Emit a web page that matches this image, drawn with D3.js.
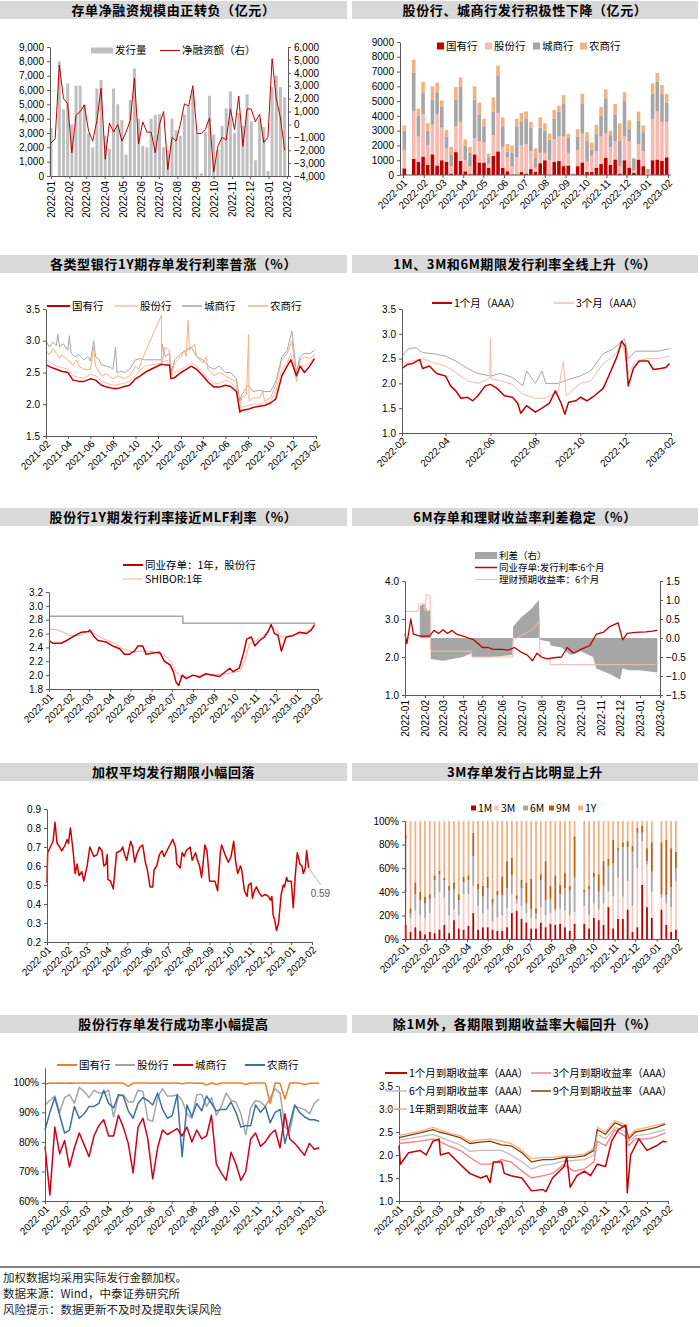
<!DOCTYPE html>
<html>
<head>
<meta charset="utf-8">
<script src="https://cdn.jsdelivr.net/npm/d3@7"></script>
<style>body{margin:0;background:#fff}</style>
</head>
<body>
<script>
"use strict";

// ---------- data ----------
// panel 1: weekly issuance (left) and net financing (right), 亿元
const p1Issue = [3350, 0, 8000, 4650, 6450, 3600, 6300, 6300, 5000, 3000, 2000, 6100, 6700, 2800, 1900, 6100, 5000, 3900, 1500, 5300,
    7500, 4000, 2100, 2000, 4000, 4250, 4300, 2000, 1800, 4000, 3200, 2800, 4300, 4800, 6000, 3000, 200, 3100, 5600, 2900,
    1800, 3500, 4700, 5900, 3000, 4400, 3500, 5700, 3800, 1100, 4000, 3400, 350, 6200, 7000, 6200, 5500];
const p1Net = [-1450, -1100, 4600, 2000, 1600, -2200, 700, 1000, 1500, -500, -1300, 300, 2800, -2700, 100, -600, 0, -1300, -600, 300,
    3600, -1500, 200, -600, -600, -2200, 0, 1000, -3500, -1000, -1300, 0, 1600, 1400, 3000, -700, -700, -400, 500, -3700,
    -1700, -1000, -1200, 1200, -400, 2200, -1700, 1200, 1200, 200, 800, -1400, -1000, 5100, 2000, 500, -2000];

// panel 2: weekly issuance by bank type
const p2Keys = ["国有行", "股份行", "城商行", "农商行"];
const p2Guoyou = [450, 0, 1100, 900, 1250, 700, 1400, 650, 1000, 900, 100, 1550, 950, 250, 50, 1400, 850, 850, 500, 1300,
    1600, 500, 250, 0, 0, 200, 100, 400, 200, 800, 1000, 0, 900, 950, 600, 650, 0, 600, 850, 200,
    200, 500, 750, 1150, 700, 1050, 100, 1000, 500, 150, 1050, 600, 0, 1000, 1050, 950, 1200];
const p2Gufen = [1250, 0, 3200, 1700, 2850, 1300, 2000, 3450, 2200, 900, 500, 1750, 2650, 750, 550, 1100, 1450, 1350, 300, 1400,
    2600, 1400, 950, 600, 1200, 1800, 2000, 1200, 300, 700, 500, 1000, 1500, 1650, 2000, 850, 50, 1100, 1950, 700,
    1100, 1100, 1850, 1650, 1200, 1250, 500, 1600, 1800, 150, 1050, 1000, 100, 2800, 3250, 2650, 2400];
const p2Chengshang = [1300, 0, 2600, 1400, 1500, 1000, 1700, 1500, 1400, 800, 800, 1800, 2400, 1000, 900, 2600, 1800, 1100, 400, 1600,
    2500, 1400, 400, 900, 2100, 1600, 1700, 1600, 700, 1700, 1500, 1400, 1400, 1700, 2200, 1000, 50, 900, 2000, 1400,
    400, 1200, 1400, 2400, 800, 1800, 1700, 2400, 800, 800, 1600, 1300, 300, 1700, 2000, 1900, 1300];
const p2Nongshang = [350, 0, 900, 500, 700, 500, 900, 650, 450, 450, 500, 850, 600, 400, 400, 900, 800, 500, 250, 950,
    700, 600, 500, 500, 500, 600, 500, 400, 600, 700, 500, 400, 600, 400, 600, 300, 0, 500, 700, 600,
    500, 600, 600, 600, 300, 700, 1200, 600, 600, 50, 600, 450, 0, 700, 600, 600, 600];

// panel 3: 1Y CD issuance rate by bank type (%)
const p3Guoyou = [["21-02-01", 2.62], ["21-02-15", 2.58], ["21-03-01", 2.55], ["21-03-15", 2.52], ["21-04-01", 2.5], ["21-04-15", 2.38],
    ["21-05-01", 2.36], ["21-05-15", 2.36], ["21-06-01", 2.4], ["21-06-15", 2.38], ["21-07-01", 2.3], ["21-07-15", 2.27],
    ["21-08-01", 2.25], ["21-08-15", 2.25], ["21-09-01", 2.28], ["21-09-15", 2.3], ["21-10-01", 2.4], ["21-10-15", 2.45],
    ["21-11-01", 2.52], ["21-12-10", 2.63], ["21-12-20", 2.62], ["22-01-01", 2.62], ["22-01-05", 2.4], ["22-01-15", 2.42],
    ["22-02-01", 2.5], ["22-02-15", 2.55], ["22-03-01", 2.6], ["22-03-15", 2.55], ["22-04-01", 2.45], ["22-04-15", 2.35],
    ["22-05-01", 2.27], ["22-05-15", 2.27], ["22-06-01", 2.3], ["22-06-15", 2.28], ["22-07-01", 2.2], ["22-07-10", 1.88],
    ["22-07-15", 1.9], ["22-08-01", 1.92], ["22-08-15", 1.95], ["22-09-01", 1.97], ["22-09-15", 1.98], ["22-10-01", 2.02],
    ["22-10-15", 2.08], ["22-11-01", 2.45], ["22-11-15", 2.6], ["22-11-25", 2.7], ["22-12-10", 2.45], ["22-12-20", 2.6],
    ["23-01-01", 2.5], ["23-01-15", 2.6], ["23-01-28", 2.72]];
const p3Gufen = [["21-02-01", 2.7], ["21-02-15", 2.65], ["21-03-01", 2.6], ["21-03-15", 2.58], ["21-04-01", 2.55], ["21-04-15", 2.45],
    ["21-05-01", 2.42], ["21-05-15", 2.42], ["21-06-01", 2.47], ["21-06-15", 2.45], ["21-07-01", 2.36], ["21-07-15", 2.33],
    ["21-08-01", 2.3], ["21-08-15", 2.31], ["21-09-01", 2.33], ["21-09-15", 2.36], ["21-10-01", 2.45], ["21-10-15", 2.55],
    ["21-10-25", 2.6], ["21-12-10", 2.65], ["21-12-20", 2.68], ["22-01-01", 2.7], ["22-01-05", 2.45], ["22-01-15", 2.5],
    ["22-02-01", 2.55], ["22-02-15", 2.6], ["22-03-01", 2.66], ["22-03-15", 2.6], ["22-04-01", 2.5], ["22-04-15", 2.4],
    ["22-05-01", 2.32], ["22-05-15", 2.33], ["22-06-01", 2.38], ["22-06-15", 2.35], ["22-07-01", 2.25], ["22-07-10", 1.9],
    ["22-07-15", 1.95], ["22-08-01", 1.98], ["22-08-15", 2.0], ["22-09-01", 2.0], ["22-09-15", 2.02], ["22-10-01", 2.05],
    ["22-10-15", 2.2], ["22-11-01", 2.55], ["22-11-15", 2.65], ["22-11-25", 2.8], ["22-12-10", 2.4], ["22-12-20", 2.6],
    ["23-01-01", 2.6], ["23-01-15", 2.65], ["23-01-28", 2.75]];
const p3Chengshang = [["21-02-01", 3.0], ["21-02-10", 2.9], ["21-02-20", 2.98], ["21-03-01", 2.92], ["21-03-05", 3.1], ["21-03-10", 2.9],
    ["21-03-20", 2.95], ["21-04-01", 2.85], ["21-04-05", 3.08], ["21-04-10", 2.8], ["21-04-20", 2.75], ["21-05-01", 2.78],
    ["21-05-15", 2.7], ["21-05-25", 2.75], ["21-06-01", 2.68], ["21-06-10", 3.0], ["21-06-15", 2.75], ["21-06-25", 2.7],
    ["21-07-01", 2.62], ["21-07-15", 2.6], ["21-07-25", 2.58], ["21-08-01", 2.55], ["21-08-08", 2.9], ["21-08-12", 2.5],
    ["21-08-25", 2.52], ["21-09-01", 2.5], ["21-09-15", 2.55], ["21-10-01", 2.7], ["21-10-15", 2.72], ["21-10-25", 2.7],
    ["21-12-10", 2.7], ["21-12-12", 2.95], ["21-12-20", 2.75], ["22-01-01", 2.8], ["22-01-05", 2.5], ["22-01-15", 2.7],
    ["22-02-01", 2.8], ["22-02-15", 2.85], ["22-03-01", 2.9], ["22-03-15", 2.75], ["22-04-01", 2.7], ["22-04-15", 2.6],
    ["22-05-01", 2.55], ["22-05-15", 2.6], ["22-06-01", 2.5], ["22-06-15", 2.5], ["22-07-01", 2.4], ["22-07-10", 2.05],
    ["22-07-15", 2.15], ["22-08-01", 2.3], ["22-08-15", 2.2], ["22-09-01", 2.22], ["22-09-15", 2.2], ["22-10-01", 2.2],
    ["22-10-15", 2.35], ["22-11-01", 2.75], ["22-11-15", 2.85], ["22-11-28", 3.15], ["22-12-10", 2.5], ["22-12-20", 2.75],
    ["23-01-01", 2.8], ["23-01-15", 2.8], ["23-01-28", 2.85]];
const p3Nongshang = [["21-02-01", 2.85], ["21-02-10", 2.78], ["21-02-20", 2.88], ["21-03-01", 2.8], ["21-03-10", 2.72], ["21-03-15", 2.78],
    ["21-04-01", 2.7], ["21-04-15", 2.62], ["21-04-25", 2.7], ["21-05-01", 2.6], ["21-05-15", 2.55], ["21-06-01", 2.55],
    ["21-06-10", 2.9], ["21-06-15", 2.6], ["21-07-01", 2.45], ["21-07-15", 2.48], ["21-08-01", 2.4], ["21-08-15", 2.45],
    ["21-09-01", 2.4], ["21-09-15", 2.45], ["21-10-01", 2.6], ["21-10-10", 2.55], ["21-10-20", 2.72], ["21-12-10", 3.4],
    ["21-12-11", 2.65], ["21-12-20", 2.9], ["22-01-01", 2.85], ["22-01-05", 2.45], ["22-01-15", 2.65], ["22-02-01", 2.75],
    ["22-02-10", 2.85], ["22-02-15", 2.75], ["22-02-20", 3.32], ["22-02-24", 2.85], ["22-03-10", 2.95], ["22-03-15", 2.75],
    ["22-04-01", 2.65], ["22-04-10", 2.75], ["22-04-15", 2.55], ["22-05-01", 2.45], ["22-05-15", 2.5], ["22-06-01", 2.45],
    ["22-06-15", 2.4], ["22-07-01", 2.35], ["22-07-10", 1.85], ["22-07-15", 2.1], ["22-07-28", 2.15], ["22-08-03", 3.1],
    ["22-08-04", 2.05], ["22-08-15", 2.1], ["22-09-01", 2.1], ["22-09-10", 2.2], ["22-09-15", 2.05], ["22-10-01", 2.1],
    ["22-10-15", 2.3], ["22-11-01", 2.7], ["22-11-15", 2.8], ["22-11-28", 3.0], ["22-12-10", 2.35], ["22-12-20", 2.7],
    ["23-01-01", 2.75], ["23-01-15", 2.72], ["23-01-28", 2.78]];

// panel 4: 1M / 3M / 6M issuance rate (%)
const p4M1 = [["22-02-01", 2.3], ["22-02-08", 2.38], ["22-02-15", 2.4], ["22-02-25", 2.48], ["22-03-01", 2.3], ["22-03-10", 2.35],
    ["22-03-20", 2.2], ["22-04-01", 2.15], ["22-04-08", 1.95], ["22-04-15", 1.85], ["22-04-22", 1.7], ["22-05-01", 1.72],
    ["22-05-08", 1.65], ["22-05-15", 1.75], ["22-05-25", 1.95], ["22-06-01", 1.98], ["22-06-10", 1.9], ["22-06-20", 1.75],
    ["22-07-01", 1.72], ["22-07-08", 1.6], ["22-07-12", 1.4], ["22-07-20", 1.55], ["22-08-01", 1.42], ["22-08-10", 1.5],
    ["22-08-20", 1.6], ["22-08-28", 1.85], ["22-09-05", 1.6], ["22-09-10", 1.38], ["22-09-15", 1.62], ["22-09-25", 1.65],
    ["22-10-01", 1.72], ["22-10-10", 1.65], ["22-10-20", 1.75], ["22-11-01", 1.9], ["22-11-10", 2.2], ["22-11-20", 2.55],
    ["22-11-26", 2.85], ["22-12-01", 2.75], ["22-12-05", 1.95], ["22-12-12", 2.3], ["22-12-20", 2.45], ["23-01-01", 2.45],
    ["23-01-08", 2.28], ["23-01-18", 2.3], ["23-01-25", 2.32], ["23-01-30", 2.4]];
const p4M3 = [["22-02-01", 2.4], ["22-02-15", 2.45], ["22-03-01", 2.5], ["22-03-15", 2.42], ["22-04-01", 2.35], ["22-04-15", 2.22],
    ["22-05-01", 2.05], ["22-05-15", 2.0], ["22-05-31", 2.1], ["22-06-01", 2.9], ["22-06-02", 2.1], ["22-06-15", 2.05],
    ["22-07-01", 1.98], ["22-07-15", 1.78], ["22-08-01", 1.7], ["22-08-15", 1.7], ["22-09-01", 1.85], ["22-09-08", 2.45],
    ["22-09-12", 1.75], ["22-10-01", 2.0], ["22-10-15", 2.05], ["22-11-01", 2.4], ["22-11-15", 2.55], ["22-11-28", 2.78],
    ["22-12-05", 2.2], ["22-12-15", 2.45], ["23-01-01", 2.5], ["23-01-15", 2.5], ["23-01-30", 2.55]];
const p4M6 = [["22-02-01", 2.55], ["22-02-10", 2.7], ["22-02-20", 2.72], ["22-03-01", 2.62], ["22-03-15", 2.6], ["22-04-01", 2.55],
    ["22-04-15", 2.45], ["22-05-01", 2.3], ["22-05-15", 2.2], ["22-06-01", 2.15], ["22-06-15", 2.2], ["22-07-01", 2.12],
    ["22-07-15", 1.95], ["22-07-20", 2.25], ["22-08-01", 2.0], ["22-08-10", 2.25], ["22-08-15", 2.0], ["22-09-01", 2.0],
    ["22-09-15", 2.08], ["22-10-01", 2.15], ["22-10-15", 2.25], ["22-11-01", 2.6], ["22-11-15", 2.7], ["22-11-30", 2.9],
    ["22-12-05", 2.5], ["22-12-15", 2.65], ["23-01-01", 2.65], ["23-01-15", 2.65], ["23-01-30", 2.7]];

// panel 5: [day since 2022-01-01, %]
const p5Cd = [[0, 2.5], [6, 2.46], [18, 2.46], [26, 2.5], [38, 2.57], [48, 2.62], [58, 2.63], [60, 2.65], [67, 2.55], [72, 2.5],
    [84, 2.48], [94, 2.42], [104, 2.38], [111, 2.3], [118, 2.3], [126, 2.35], [131, 2.42], [138, 2.42], [143, 2.3], [153, 2.32],
    [163, 2.33], [170, 2.2], [178, 2.15], [183, 2.05], [187, 1.9], [191, 1.85], [196, 2.0], [202, 1.95], [212, 2.0], [222, 1.97],
    [231, 2.02], [241, 2.0], [251, 1.98], [256, 2.02], [266, 2.1], [271, 2.05], [280, 2.1], [286, 2.3], [291, 2.52], [298, 2.55],
    [303, 2.42], [310, 2.5], [317, 2.55], [322, 2.62], [327, 2.73], [332, 2.6], [337, 2.58], [342, 2.35], [349, 2.55], [359, 2.57],
    [369, 2.62], [379, 2.6], [386, 2.65], [391, 2.73]];
const p5Shibor = [[0, 2.66], [11, 2.66], [21, 2.62], [30, 2.57], [45, 2.57], [57, 2.63], [67, 2.6], [79, 2.53], [94, 2.47], [109, 2.38],
    [124, 2.33], [138, 2.35], [153, 2.34], [168, 2.3], [178, 2.22], [187, 2.05], [195, 1.97], [202, 1.98], [222, 2.0], [241, 2.01],
    [261, 2.02], [281, 2.06], [288, 2.2], [295, 2.45], [305, 2.5], [320, 2.6], [327, 2.7], [335, 2.65], [342, 2.55], [349, 2.55],
    [359, 2.58], [374, 2.6], [391, 2.7]];
const p5Mlf = [[0, 2.85], [197, 2.75], [392, 2.75]];

// panel 6
const p6Spread = [["22-01-24", 0.85], ["22-02-01", 0.9], ["22-02-05", 0.7], ["22-02-09", 0.75], ["22-02-10", -0.55], ["22-03-01", -0.6],
    ["22-04-01", -0.5], ["22-04-14", -0.4], ["22-04-15", -0.5], ["22-05-15", -0.5], ["22-06-17", -0.45], ["22-06-18", 0.3],
    ["22-07-01", 0.55], ["22-07-15", 0.75], ["22-07-28", 1.0], ["22-07-30", -0.05], ["22-08-14", -0.1], ["22-08-15", -0.2],
    ["22-09-01", -0.25], ["22-09-15", -0.45], ["22-10-01", -0.35], ["22-10-20", -0.5], ["22-10-25", -0.8], ["22-11-15", -0.95],
    ["22-12-01", -1.1], ["22-12-05", -0.8], ["22-12-15", -0.85], ["23-01-01", -0.85], ["23-01-25", -0.9], ["23-01-28", -0.9]];
const p6Cd = [["22-01-01", 2.6], ["22-01-04", 2.35], ["22-01-10", 3.0], ["22-01-14", 2.6], ["22-01-25", 2.55], ["22-02-08", 2.55],
    ["22-02-15", 2.7], ["22-02-22", 2.62], ["22-03-01", 2.72], ["22-03-08", 2.62], ["22-03-15", 2.7], ["22-03-22", 2.6],
    ["22-04-01", 2.55], ["22-04-10", 2.5], ["22-04-18", 2.45], ["22-04-25", 2.35], ["22-05-01", 2.25], ["22-05-10", 2.25],
    ["22-05-18", 2.2], ["22-06-01", 2.2], ["22-06-10", 2.18], ["22-06-20", 2.25], ["22-07-01", 2.12], ["22-07-10", 2.05],
    ["22-07-18", 1.9], ["22-07-25", 2.1], ["22-08-01", 2.0], ["22-08-10", 1.95], ["22-08-20", 1.98], ["22-09-01", 2.0],
    ["22-09-10", 2.25], ["22-09-20", 2.1], ["22-10-01", 2.2], ["22-10-15", 2.3], ["22-10-25", 2.6], ["22-11-05", 2.65],
    ["22-11-15", 2.8], ["22-11-28", 2.9], ["22-12-05", 2.45], ["22-12-12", 2.62], ["22-12-25", 2.65], ["23-01-10", 2.66],
    ["23-01-20", 2.68], ["23-01-28", 2.7]];
const p6Wealth = [["22-01-01", 3.2], ["22-01-21", 3.2], ["22-01-22", 3.4], ["22-01-31", 3.4], ["22-02-01", 3.2], ["22-02-03", 3.65],
    ["22-02-09", 3.6], ["22-02-10", 2.15], ["22-04-14", 2.15], ["22-04-15", 2.0], ["22-06-17", 2.0], ["22-06-18", 2.45],
    ["22-07-05", 2.6], ["22-07-20", 2.75], ["22-07-28", 2.95], ["22-07-30", 1.97], ["22-08-14", 1.97], ["22-08-15", 1.8],
    ["23-01-25", 1.8]];

// panel 7: weighted average tenor, [day since 2022-01-01, year]
const p7Tenor = [[0, 0.51], [1, 0.67], [5, 0.70], [9, 0.73], [12, 0.83], [15, 0.72], [19, 0.70], [22, 0.68], [27, 0.71], [30, 0.74],
    [32, 0.72], [35, 0.80], [39, 0.68], [42, 0.56], [45, 0.61], [48, 0.55], [52, 0.57], [55, 0.52], [60, 0.6], [64, 0.70],
    [70, 0.65], [75, 0.66], [78, 0.70], [82, 0.68], [85, 0.60], [88, 0.61], [90, 0.66], [91, 0.53], [95, 0.52], [99, 0.48],
    [104, 0.67], [110, 0.68], [113, 0.70], [116, 0.66], [119, 0.63], [125, 0.73], [128, 0.70], [131, 0.62], [134, 0.66], [139, 0.70],
    [143, 0.71], [147, 0.62], [150, 0.58], [154, 0.49], [158, 0.49], [160, 0.58], [164, 0.60], [168, 0.66], [172, 0.68], [175, 0.65],
    [182, 0.70], [188, 0.74], [192, 0.70], [194, 0.61], [199, 0.59], [202, 0.67], [205, 0.65], [208, 0.68], [214, 0.70], [217, 0.63],
    [222, 0.67], [224, 0.64], [228, 0.60], [231, 0.54], [236, 0.71], [239, 0.68], [243, 0.52], [251, 0.52], [255, 0.47], [259, 0.67],
    [261, 0.71], [266, 0.66], [271, 0.62], [275, 0.65], [279, 0.73], [282, 0.62], [285, 0.56], [289, 0.60], [291, 0.58], [295, 0.47],
    [299, 0.44], [301, 0.50], [305, 0.51], [307, 0.43], [310, 0.47], [313, 0.49], [317, 0.46], [321, 0.44], [326, 0.45], [331, 0.44],
    [334, 0.42], [336, 0.44], [338, 0.34], [340, 0.32], [343, 0.26], [346, 0.30], [350, 0.45], [353, 0.50], [355, 0.49], [358, 0.54],
    [360, 0.52], [365, 0.52], [368, 0.38], [371, 0.55], [374, 0.67], [378, 0.61], [381, 0.60], [383, 0.56], [386, 0.59], [388, 0.68],
    [391, 0.59]];

// panel 8: weekly share by tenor (%), null = no issuance that week
const p8Keys = ["1M", "3M", "6M", "9M", "1Y"];
const p8M1 = [12, 6, 10, 7, 4, 6, 5, 8, 12, 5, 16, 9, 8, 11, 22, 8, 10, 10, 8, 7, 7, 10, 22, 24, 17, 14, 9, 9, 14, 10,
    13, 12, 13, 10, 7, 13, null, 13, 9, 18, 16, 12, 27, 9, 17, 17, 25, 6, 10, 46, 27, 18, null, 25, 12, 6, 8];
const p8M3 = [28, 12, 14, 13, 14, 16, 30, 32, 23, 15, 9, 11, 30, 27, 23, 20, 12, 15, 7, 11, 13, 16, 16, 6, 11, 8, 9, 8, 13, 10,
    9, 12, 12, 14, 13, 10, null, 15, 11, 12, 9, 18, 13, 27, 35, 19, 24, 22, 50, 37, 36, 22, null, 10, 18, 21, 41];
const p8M6 = [45, 4, 14, 13, 12, 12, 15, 15, 15, 21, 17, 13, 10, 12, 25, 14, 14, 18, 15, 19, 17, 17, 16, 4, 15, 8, 7, 5, 23, 13,
    12, 1, 13, 19, 21, 29, null, 12, 22, 22, 15, 15, 22, 28, 23, 42, 29, 46, 30, 7, 3, 17, null, 3, 7, 17, 11];
const p8M9 = [3, 4, 10, 7, 6, 4, 4, 3, 2, 4, 6, 5, 5, 4, 20, 5, 9, 10, 4, 4, 16, 23, 15, 3, 7, 18, 26, 4, 5, 33,
    11, 29, 8, 13, 4, 35, null, 2, 3, 4, 15, 21, 6, 20, 2, 4, 5, 5, 4, 6, 11, 25, null, 44, 47, 33, 14];
const p8Y1 = [12, 74, 52, 60, 64, 62, 46, 42, 48, 55, 52, 62, 47, 46, 10, 53, 55, 47, 66, 59, 47, 34, 31, 63, 50, 52, 49, 74, 45, 34,
    55, 46, 54, 44, 55, 13, null, 58, 55, 44, 45, 34, 32, 16, 23, 18, 17, 21, 6, 4, 23, 18, null, 18, 16, 23, 26];

// panel 9: weekly issuance success rate (%)
const p9Guoyou = [99.5, 99.9, 99.8, 99.9, 99.8, 99.9, 99.8, 99.9, 99.9, 99.8, 99.9, 99.9, 99.8, 99.9, 99.9, 99.9, 99.8, 98.8, 99.9, 99.9,
    99.9, 99.9, 99.8, 99.9, 99.9, 99.8, 99.9, 99.9, 99.7, 99.9, 99.9, 99.8, 99.9, 99.3, 99.9, 99.4, 99.9, 99.9, 99.9, 99.9,
    99.9, 99.4, 99.9, 99.9, 99.9, 99.8, 93, 99.9, 99.8, 94.5, 99.9, 99.9, 99.9, 99.4, 99.8, 99.8, 99.8];
const p9Gufen = [92.5, 94, 95.5, 90, 95, 96, 93, 98.5, 97, 95, 97.5, 96.5, 96.5, 97.5, 88.5, 95.5, 96, 93.5, 93.5, 97.5,
    97, 87.5, 87, 95, 98, 95.5, 95.5, 96, 94, 89.5, 88, 96, 96, 92, 95, 89, 92, 96.5, 94, 93.5,
    89.5, 82.5, 91.5, 94, 93.5, 92, 95, 98, 96.5, 85, 83.5, 92, 91.5, 91, 89.5, 93, 94.5];
const p9Chengshang = [78.5, 62, 85, 76, 80.5, 71.5, 78, 83, 79, 75, 82, 85.5, 87.5, 82, 82, 89, 85, 79.5, 69.5, 85,
    88, 81, 67.5, 78, 84, 82.5, 83.5, 84.5, 82, 85, 80, 84, 81, 82, 89, 72.5, 69.5, 67, 76.5, 72.5,
    67, 70, 81, 83, 78.5, 80, 82.5, 84, 78, 89.5, 81, 79.5, 77.5, 75.5, 79.5, 77.5, 78];
const p9Nongshang = [84, 90, 95, 89, 83, 84, 92, 88, 89.5, 92, 92, 93, 97.5, 93, 91.5, 96, 95.5, 90.5, 88, 93,
    95, 94, 92.5, 96.5, 91, 88, 89, 96, 75, 92.5, 88.5, 93, 90.5, 95.5, 93, 90.5, 91, 91, 93.5, 90,
    85, 85.5, 85.5, 92.5, 90, 92, 86.5, 90, 91, 79.5, 86, 92.5, 90, 88.5, 87.5, 87.5, 87];

// panel 10: yield to maturity (%)
const p10Dates = ["22-01-01", "22-02-01", "22-02-20", "22-03-01", "22-03-15", "22-04-01", "22-04-15", "22-05-01", "22-05-15", "22-06-01",
    "22-06-15", "22-07-01", "22-07-15", "22-08-01", "22-08-15", "22-09-01", "22-09-15", "22-10-01", "22-10-15", "22-10-20",
    "22-11-01", "22-11-15", "22-12-01", "22-12-05", "22-12-15", "23-01-01", "23-01-15", "23-01-28"];
const p10Y1 = [2.42, 2.52, 2.6, 2.55, 2.48, 2.42, 2.3, 2.33, 2.35, 2.3, 2.25, 2.1, 1.92, 1.95, 1.95, 1.98, 1.99, 2.02, 2.15, 2.6,
    2.5, 2.75, 2.65, 2.4, 2.55, 2.6, 2.65, 2.7];
const p10M9 = [2.38, 2.48, 2.55, 2.5, 2.45, 2.38, 2.25, 2.28, 2.3, 2.22, 2.2, 2.05, 1.85, 1.9, 1.9, 1.95, 1.95, 1.98, 2.1, 2.55,
    2.45, 2.7, 2.6, 2.35, 2.5, 2.55, 2.6, 2.67];
const p10M6 = [2.32, 2.4, 2.45, 2.4, 2.32, 2.22, 2.08, 2.1, 2.1, 2.1, 2.0, 1.85, 1.7, 1.78, 1.8, 1.87, 1.88, 1.9, 2.0, 2.45,
    2.35, 2.6, 2.5, 2.3, 2.42, 2.45, 2.5, 2.55];
const p10M3 = [2.25, 2.3, 2.35, 2.3, 2.2, 2.1, 1.95, 1.8, 1.8, 1.9, 1.85, 1.65, 1.5, 1.55, 1.6, 1.8, 1.65, 1.7, 1.85, 2.3,
    2.2, 2.55, 2.4, 2.2, 2.35, 2.35, 2.4, 2.48];
const p10M1 = [["22-01-01", 2.2], ["22-01-03", 1.8], ["22-01-15", 2.05], ["22-02-01", 2.1], ["22-02-10", 2.0], ["22-02-20", 2.3],
    ["22-03-01", 2.35], ["22-03-03", 2.0], ["22-03-15", 2.05], ["22-04-01", 1.8], ["22-04-15", 1.6], ["22-05-01", 1.5],
    ["22-05-10", 1.55], ["22-05-15", 1.4], ["22-05-20", 1.85], ["22-06-01", 1.85], ["22-06-05", 1.6], ["22-06-15", 1.55],
    ["22-07-01", 1.5], ["22-07-15", 1.22], ["22-08-01", 1.25], ["22-08-05", 1.2], ["22-08-15", 1.5], ["22-09-01", 1.75],
    ["22-09-05", 1.95], ["22-09-10", 1.3], ["22-09-20", 1.55], ["22-10-01", 1.65], ["22-10-10", 1.55], ["22-10-20", 1.8],
    ["22-11-01", 1.75], ["22-11-10", 2.3], ["22-11-20", 2.55], ["22-12-01", 2.65], ["22-12-03", 1.18], ["22-12-08", 2.0],
    ["22-12-20", 2.35], ["23-01-01", 2.1], ["23-01-15", 2.2], ["23-01-25", 2.3], ["23-01-30", 2.28]];

const footnotes = ["加权数据均采用实际发行金额加权。", "数据来源：Wind，中泰证券研究所", "风险提示：数据更新不及时及提取失误风险"];

// ---------- helpers ----------
const LATIN = "'Liberation Sans', Arial, sans-serif";
const CJK = "'Noto Sans CJK SC', sans-serif";
const RED = "#c00000";
const parse = d3.timeParse("%y-%m-%d");
const D = (y, m) => new Date(y, m - 1, 1);
const weekDates = (start, n) => d3.range(n).map(i => d3.timeDay.offset(start, 7 * i));
const monthTicks = (a, b, step) => d3.timeMonth.range(a, d3.timeDay.offset(b, 1), step);

const svg = d3.select("body").append("svg").attr("width", 700).attr("height", 1327);
svg.append("rect").attr("width", 700).attr("height", 1327).attr("fill", "#fff");

function titleBar(x, y, w, text) {
    svg.append("rect").attr("x", x).attr("y", y).attr("width", w).attr("height", 18).attr("fill", "#d9d9d9");
    svg.append("text").attr("x", x + w / 2).attr("y", y + 9.5).attr("dy", "0.36em")
        .attr("text-anchor", "middle").attr("font-family", CJK).attr("font-weight", "bold")
        .attr("font-size", 13).attr("letter-spacing", 0.6).text(text);
}

function styleAxis(g) {
    g.selectAll("path.domain").attr("stroke", "#595959");
    g.selectAll(".tick line").attr("stroke", "#595959");
    g.selectAll("text").attr("font-family", LATIN).attr("font-size", 10).attr("fill", "#000");
}

function yAxis(scale, x, ticks, fmt, right) {
    const ax = (right ? d3.axisRight(scale) : d3.axisLeft(scale))
        .tickValues(ticks).tickFormat(fmt).tickSize(3).tickSizeOuter(0);
    const g = svg.append("g").attr("transform", `translate(${x},0)`).call(ax);
    styleAxis(g);
    return g;
}

function xAxis(scale, y, ticks, angle) {
    const g = svg.append("g").attr("transform", `translate(0,${y})`)
        .call(d3.axisBottom(scale).tickValues(ticks).tickFormat(d3.timeFormat("%Y-%m")).tickSize(3).tickSizeOuter(0));
    styleAxis(g);
    const t = g.selectAll(".tick text").attr("text-anchor", "end").attr("x", 0).attr("y", 0).attr("dy", "0.35em");
    if (angle === -90) t.attr("transform", "translate(0,5) rotate(-90)");
    else t.attr("transform", "translate(2,6) rotate(-45)");
    return g;
}

function drawLine(pts, x, y, color, width, getDate) {
    svg.append("path").datum(pts)
        .attr("fill", "none").attr("stroke", color).attr("stroke-width", width).attr("stroke-linejoin", "round")
        .attr("d", d3.line().x(d => x(getDate(d))).y(d => y(d[1])));
}

function legLine(x, y, color, width, label, len, size) {
    svg.append("line").attr("x1", x).attr("x2", x + (len || 20)).attr("y1", y).attr("y2", y)
        .attr("stroke", color).attr("stroke-width", width);
    svg.append("text").attr("x", x + (len || 20) + 2).attr("y", y).attr("dy", "0.36em")
        .attr("font-family", CJK).attr("font-size", size || 10.5).text(label);
}

function legRect(x, y, w, h, color, label, size) {
    svg.append("rect").attr("x", x).attr("y", y - h / 2).attr("width", w).attr("height", h).attr("fill", color);
    svg.append("text").attr("x", x + w + 2).attr("y", y).attr("dy", "0.36em")
        .attr("font-family", CJK).attr("font-size", size || 10.5).text(label);
}

const byStr = d => parse(d[0]);

// ---------- titles ----------
titleBar(0, 1, 347, "存单净融资规模由正转负（亿元）");
titleBar(352, 1, 346, "股份行、城商行发行积极性下降（亿元）");
titleBar(0, 255, 347, "各类型银行1Y期存单发行利率普涨（%）");
titleBar(352, 255, 346, "1M、3M和6M期限发行利率全线上升（%）");
titleBar(0, 508, 347, "股份行1Y期发行利率接近MLF利率（%）");
titleBar(352, 508, 346, "6M存单和理财收益率利差稳定（%）");
titleBar(0, 763, 347, "加权平均发行期限小幅回落");
titleBar(352, 763, 346, "3M存单发行占比明显上升");
titleBar(0, 1015, 347, "股份行存单发行成功率小幅提高");
titleBar(352, 1015, 346, "除1M外，各期限到期收益率大幅回升（%）");

// ---------- panel 1 ----------
(function () {
    const x = d3.scaleTime().domain([D(2022, 1), D(2023, 2)]).range([51, 287]);
    const yL = d3.scaleLinear().domain([0, 9000]).range([176, 47]);
    const yR = d3.scaleLinear().domain([-4000, 6000]).range([176, 47]);
    const dates = weekDates(D(2022, 1), p1Issue.length);
    svg.append("g").selectAll("rect").data(p1Issue).join("rect")
        .attr("x", (d, i) => x(dates[i]) - 1.5).attr("width", 3)
        .attr("y", d => yL(d)).attr("height", d => yL(0) - yL(d)).attr("fill", "#bfbfbf");
    svg.append("path").datum(p1Net).attr("fill", "none").attr("stroke", RED).attr("stroke-width", 1)
        .attr("d", d3.line().x((d, i) => x(dates[i])).y(d => yR(d)));
    yAxis(yL, 50, d3.range(0, 9001, 1000), d3.format(","));
    yAxis(yR, 288, d3.range(-4000, 6001, 1000), d3.format(","), true);
    xAxis(x, 176, monthTicks(D(2022, 1), D(2023, 2), 1), -90);
    legRect(91, 50.5, 22, 6, "#bfbfbf", "发行量");
    legLine(160, 50.5, RED, 1, "净融资额（右）");
})();

// ---------- panel 2 ----------
(function () {
    const x = d3.scaleTime().domain([D(2022, 1), D(2023, 2)]).range([403, 668]);
    const y = d3.scaleLinear().domain([0, 9000]).range([175, 42]);
    const dates = weekDates(new Date(2022, 0, 3), p2Guoyou.length);
    const rows = dates.map((d, i) => ({
        date: d, "国有行": p2Guoyou[i], "股份行": p2Gufen[i], "城商行": p2Chengshang[i], "农商行": p2Nongshang[i]
    }));
    const colors = ["#c00000", "#f8b9b0", "#a6a6a6", "#f4b183"];
    const series = d3.stack().keys(p2Keys)(rows);
    svg.append("g").selectAll("g").data(series).join("g").attr("fill", (s, i) => colors[i])
        .selectAll("rect").data(s => s).join("rect")
        .attr("x", d => x(d.data.date) - 1.8).attr("width", 3.6)
        .attr("y", d => y(d[1])).attr("height", d => y(d[0]) - y(d[1]));
    yAxis(y, 400, d3.range(0, 9001, 1000), d3.format("d"));
    const gx = xAxis(x, 175, monthTicks(D(2022, 1), D(2023, 2), 1), -45);
    gx.select("path.domain").attr("d", "M400,0H671");
    p2Keys.forEach((k, i) => legRect([437, 485, 533, 580][i], 46, 7, 7, colors[i], k));
})();

// ---------- panel 3 ----------
(function () {
    const x = d3.scaleTime().domain([D(2021, 2), D(2023, 2)]).range([46, 316]);
    const y = d3.scaleLinear().domain([1.5, 3.5]).range([436, 309]);
    drawLine(p3Chengshang, x, y, "#a6a6a6", 1, byStr);
    drawLine(p3Nongshang, x, y, "#f4b183", 1, byStr);
    drawLine(p3Gufen, x, y, "#f8b9b0", 1, byStr);
    drawLine(p3Guoyou, x, y, RED, 1.5, byStr);
    yAxis(y, 46, [1.5, 2.0, 2.5, 3.0, 3.5], d3.format(".1f"));
    xAxis(x, 436, monthTicks(D(2021, 2), D(2023, 2), 2), -45);
    legLine(47, 306, RED, 2, "国有行", 23);
    legLine(115, 306, "#f8b9b0", 1.5, "股份行", 23);
    legLine(182, 306, "#a6a6a6", 1.5, "城商行", 20);
    legLine(248, 306, "#f4b183", 1.5, "农商行", 20);
})();

// ---------- panel 4 ----------
(function () {
    const x = d3.scaleTime().domain([D(2022, 2), D(2023, 2)]).range([402, 671]);
    const y = d3.scaleLinear().domain([1.0, 3.5]).range([433, 309]);
    drawLine(p4M6, x, y, "#a6a6a6", 1, byStr);
    drawLine(p4M3, x, y, "#f8b9b0", 1, byStr);
    drawLine(p4M1, x, y, RED, 1.5, byStr);
    yAxis(y, 402, [1.0, 1.5, 2.0, 2.5, 3.0, 3.5], d3.format(".1f"));
    xAxis(x, 433, monthTicks(D(2022, 2), D(2023, 2), 2), -45);
    legLine(432, 303, RED, 2, "1个月（AAA）");
    legLine(554, 303, "#f8b9b0", 1.5, "3个月（AAA）");
})();

// ---------- panel 5 ----------
(function () {
    const start = D(2022, 1);
    const x = d3.scaleTime().domain([D(2022, 1), D(2023, 2)]).range([49, 318]);
    const y = d3.scaleLinear().domain([1.8, 3.2]).range([689, 592]);
    const byDay = d => d3.timeDay.offset(start, d[0]);
    svg.append("path").datum(p5Mlf).attr("fill", "none").attr("stroke", "#a6a6a6").attr("stroke-width", 1.5)
        .attr("d", d3.line().curve(d3.curveStepAfter).x(d => x(byDay(d))).y(d => y(d[1])));
    drawLine(p5Shibor, x, y, "#f8a8a0", 1, byDay);
    drawLine(p5Cd, x, y, RED, 1.5, byDay);
    yAxis(y, 49, [1.8, 2.0, 2.2, 2.4, 2.6, 2.8, 3.0, 3.2], d3.format(".1f"));
    xAxis(x, 689, monthTicks(D(2022, 1), D(2023, 2), 1), -45);
    legLine(123, 565, RED, 2, "同业存单：1年，股份行");
    legLine(123, 579, "#f8a8a0", 1, "SHIBOR:1年");
})();

// ---------- panel 6 ----------
(function () {
    const x = d3.scaleTime().domain([D(2022, 1), D(2023, 2)]).range([405, 660]);
    const yL = d3.scaleLinear().domain([1.0, 4.0]).range([695, 581]);
    const yR = d3.scaleLinear().domain([-1.5, 1.5]).range([695, 581]);
    svg.append("path").datum(p6Spread).attr("fill", "#a6a6a6")
        .attr("d", d3.area().x(d => x(byStr(d))).y0(yR(0)).y1(d => yR(d[1])));
    drawLine(p6Wealth, x, yL, "#f8b9b0", 1, byStr);
    drawLine(p6Cd, x, yL, RED, 1.3, byStr);
    yAxis(yL, 405, [1, 2, 3, 4], d3.format(".1f"));
    yAxis(yR, 660, [-1.5, -1, -0.5, 0, 0.5, 1, 1.5], d3.format(".1f"), true);
    xAxis(x, 695, monthTicks(D(2022, 1), D(2023, 2), 1), -90);
    legRect(475, 555.5, 22, 7, "#a6a6a6", "利差（右）", 9.5);
    legLine(475, 567.5, RED, 1.5, "同业存单:发行利率:6个月", 22, 9.5);
    legLine(475, 579.5, "#f8b9b0", 1, "理财预期收益率：6个月", 22, 9.5);
})();

// ---------- panel 7 ----------
(function () {
    const start = D(2022, 1);
    const x = d3.scaleTime().domain([D(2022, 1), D(2023, 2)]).range([47, 312]);
    const y = d3.scaleLinear().domain([0.2, 0.9]).range([942, 809]);
    const byDay = d => d3.timeDay.offset(start, d[0]);
    drawLine(p7Tenor, x, y, "#d00000", 1.5, byDay);
    yAxis(y, 47, [0.2, 0.3, 0.4, 0.5, 0.6, 0.7, 0.8, 0.9], d3.format(".1f"));
    xAxis(x, 942, monthTicks(D(2022, 1), D(2023, 2), 1), -45);
    const last = p7Tenor[p7Tenor.length - 1];
    const lx = x(byDay(last)), ly = y(last[1]);
    svg.append("line").attr("x1", lx).attr("y1", ly).attr("x2", lx + 12).attr("y2", ly + 17)
        .attr("stroke", "#a6a6a6").attr("stroke-width", 0.8);
    svg.append("text").attr("x", lx + 2).attr("y", ly + 25).attr("dy", "0.36em")
        .attr("font-family", LATIN).attr("font-size", 10).attr("fill", "#595959").text(d3.format(".2f")(last[1]));
})();

// ---------- panel 8 ----------
(function () {
    const x = d3.scaleTime().domain([D(2022, 1), D(2023, 2)]).range([405, 678]);
    const y = d3.scaleLinear().domain([0, 100]).range([939, 821]);
    const dates = weekDates(new Date(2022, 0, 2), p8M1.length);
    const cols = [p8M1, p8M3, p8M6, p8M9, p8Y1];
    const rows = dates.map((d, i) => {
        const r = { date: d };
        p8Keys.forEach((k, j) => { r[k] = cols[j][i]; });
        return r;
    }).filter(r => r["1M"] !== null);
    const colors = ["#c00000", "#f8cbc4", "#a6a6a6", "#c55a11", "#f4b183"];
    const series = d3.stack().keys(p8Keys).offset(d3.stackOffsetExpand)(rows);
    svg.append("g").selectAll("g").data(series).join("g").attr("fill", (s, i) => colors[i])
        .selectAll("rect").data(s => s).join("rect")
        .attr("x", d => x(d.data.date) - 0.9).attr("width", 1.8)
        .attr("y", d => y(d[1] * 100)).attr("height", d => y(d[0] * 100) - y(d[1] * 100));
    yAxis(y, 405, [0, 20, 40, 60, 80, 100], d => d + "%");
    xAxis(x, 939, monthTicks(D(2022, 1), D(2023, 2), 1), -45);
    p8Keys.forEach((k, i) => legRect([471, 494, 523, 549, 578][i], 808, 5, 5, colors[i], k));
})();

// ---------- panel 9 ----------
(function () {
    const x = d3.scaleTime().domain([D(2022, 1), D(2023, 2)]).range([45, 322]);
    const y = d3.scaleLinear().domain([60, 105]).range([1201, 1068]);
    const dates = weekDates(D(2022, 1), p9Guoyou.length);
    const draw = (vals, color) => svg.append("path").datum(vals).attr("fill", "none")
        .attr("stroke", color).attr("stroke-width", 1.5).attr("stroke-linejoin", "round")
        .attr("d", d3.line().x((d, i) => x(dates[i])).y(d => y(d)));
    draw(p9Gufen, "#a5a5a5");
    draw(p9Nongshang, "#3d6ea5");
    draw(p9Chengshang, "#d0021b");
    draw(p9Guoyou, "#ed7d31");
    yAxis(y, 45, [60, 70, 80, 90, 100], d => d + "%");
    xAxis(x, 1201, monthTicks(D(2022, 1), D(2023, 2), 1), -45);
    legLine(57, 1065, "#ed7d31", 2, "国有行", 20);
    legLine(115, 1065, "#a5a5a5", 2, "股份行", 20);
    legLine(173, 1065, "#d0021b", 2, "城商行", 20);
    legLine(245, 1065, "#3d6ea5", 2, "农商行", 20);
})();

// ---------- panel 10 ----------
(function () {
    const x = d3.scaleTime().domain([D(2022, 1), D(2023, 2)]).range([399, 668]);
    const y = d3.scaleLinear().domain([1.0, 3.5]).range([1201, 1086]);
    const dates = p10Dates.map(parse);
    const draw = (vals, color, w) => svg.append("path").datum(vals).attr("fill", "none")
        .attr("stroke", color).attr("stroke-width", w).attr("stroke-linejoin", "round")
        .attr("d", d3.line().x((d, i) => x(dates[i])).y(d => y(d)));
    yAxis(y, 399, [1.0, 1.5, 2.0, 2.5, 3.0, 3.5], d3.format(".1f"));
    xAxis(x, 1201, monthTicks(D(2022, 1), D(2023, 2), 1), -45);
    draw(p10Y1, "#f4b183", 1.3);
    draw(p10M9, "#843c0c", 1.3);
    draw(p10M6, "#bfbfbf", 1.3);
    draw(p10M3, "#ff7c80", 1.3);
    drawLine(p10M1, x, y, RED, 1.5, byStr);
    legLine(385, 1073, RED, 2, "1个月到期收益率（AAA）", 22);
    legLine(531, 1073, "#ff7c80", 1.5, "3个月到期收益率（AAA）", 20);
    legLine(385, 1091, "#bfbfbf", 1.5, "6个月到期收益率（AAA）", 22);
    legLine(531, 1091, "#843c0c", 1.5, "9个月到期收益率（AAA）", 20);
    legLine(385, 1109, "#f4b183", 1.5, "1年期到期收益率（AAA）", 22);
})();

// ---------- footer ----------
svg.append("line").attr("x1", 0).attr("x2", 700).attr("y1", 1267).attr("y2", 1267)
    .attr("stroke", "#595959").attr("stroke-width", 1.5);
svg.selectAll("text.foot").data(footnotes).join("text").attr("class", "foot")
    .attr("x", 3).attr("y", (d, i) => 1282 + i * 16)
    .attr("font-family", CJK).attr("font-size", 11.5).attr("fill", "#222").text(d => d);
</script>
</body>
</html>
